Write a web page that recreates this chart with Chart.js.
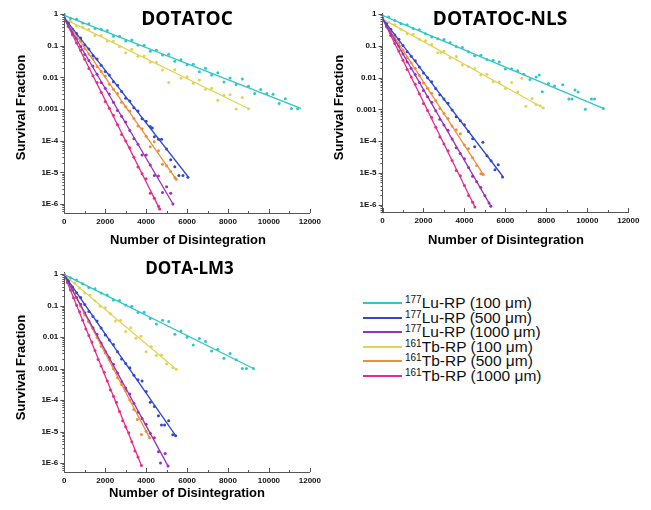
<!DOCTYPE html>
<html>
<head>
<meta charset="utf-8">
<script src="https://cdn.jsdelivr.net/npm/chart.js@4.4.1/dist/chart.umd.min.js"></script>
<style>
  html, body { margin:0; padding:0; background:#fff; }
  #wrap { position:relative; width:651px; height:510px; overflow:hidden; }
  canvas { position:absolute; }
  #legend { position:absolute; left:0; top:0; font-family:'Liberation Sans', Arial, sans-serif; font-size:15.5px; color:#111; }
  .row { position:absolute; left:363px; height:15px; line-height:15px; white-space:nowrap; }
  .sw { position:absolute; left:0; top:7px; width:39px; height:2px; }
  .tx { position:absolute; left:42px; top:0; }
  .tx sup { font-size:10px; vertical-align:5px; line-height:0; }
</style>
</head>
<body>
<div id="wrap">
  <canvas id="c1" width="325" height="250" style="left:0;top:0"></canvas>
  <canvas id="c2" width="326" height="250" style="left:325px;top:0"></canvas>
  <canvas id="c3" width="325" height="260" style="left:0;top:250px"></canvas>
  <div id="legend"></div>
</div>
<script>
// ---------------- DATA ----------------
const panelTitles = ['DOTATOC', 'DOTATOC-NLS', 'DOTA-LM3'];
const xAxisTitle = 'Number of Disintegration';
const yAxisTitle = 'Survival Fraction';
const seriesIsotopes = ['177', '177', '177', '161', '161', '161'];
const seriesNames = ['Lu-RP (100 \u03bcm)', 'Lu-RP (500 \u03bcm)', 'Lu-RP (1000 \u03bcm)', 'Tb-RP (100 \u03bcm)', 'Tb-RP (500 \u03bcm)', 'Tb-RP (1000 \u03bcm)'];
const xTickValues = [0, 2000, 4000, 6000, 8000, 10000, 12000];
const yTickValues = [1e-6, 1e-5, 1e-4, 1e-3, 1e-2, 1e-1, 1];
const yTickLabels = ['1E-6', '1E-5', '1E-4', '0.001', '0.01', '0.1', '1'];

// DOTATOC
const dotatocLu100 = [[0,0.94],[300,0.72],[600,0.68],[900,0.52],[1200,0.49],[1500,0.35],[1800,0.33],[2100,0.30],[2400,0.20],[2700,0.20],[3000,0.14],[3300,0.15],[3600,0.105],[3900,0.103],[4200,0.067],[4500,0.071],[4800,0.051],[5100,0.054],[5400,0.032],[5700,0.036],[6000,0.025],[6300,0.026],[6600,0.015],[6900,0.0195],[7200,0.0119],[7500,0.014],[7800,0.0071],[8100,0.0095],[8400,0.0059],[8700,0.0088],[9000,0.0052],[9300,0.0031],[9600,0.0041],[9900,0.0031],[10200,0.0029],[10500,0.0015],[10800,0.0021],[11100,0.00104],[11400,0.00102]];
const dotatocLu100Fit = [[0,0.9],[11560,0.00105]];
const dotatocLu500 = [[0,0.75],[200,0.54],[400,0.33],[600,0.24],[800,0.175],[1000,0.104],[1200,0.079],[1400,0.049],[1600,0.038],[1800,0.024],[2000,0.0154],[2200,0.0118],[2400,0.0073],[2600,0.0056],[2800,0.0036],[3000,0.0022],[3200,0.0018],[3400,0.00109],[3600,8.7e-4],[3800,4.95e-4],[4000,4.1e-4],[4200,2.8e-4],[4300,2.5e-4],[4400,1.34e-4],[4600,1.1e-4],[4750,1.1e-4],[5000,5.5e-5],[5200,2.5e-5],[5400,1.5e-5],[5600,8e-6],[5800,8e-6],[6040,7e-6]];
const dotatocLu500Fit = [[0,0.75],[6040,7.4e-6]];
const dotatocLu1000 = [[0,0.72],[200,0.43],[400,0.26],[600,0.168],[800,0.094],[1000,0.053],[1200,0.034],[1400,0.0226],[1600,0.0124],[1800,0.0069],[2000,0.0045],[2200,0.003],[2400,0.00162],[2600,8.9e-4],[2800,5.9e-4],[3000,3.9e-4],[3200,2.1e-4],[3400,1.14e-4],[3600,7.7e-5],[3800,3.5e-5],[4000,3.5e-5],[4200,1.7e-5],[4400,8e-6],[4600,7.6e-6],[4800,2.3e-6],[5000,3.5e-6],[5200,2.2e-6],[5310,1e-6]];
const dotatocLu1000Fit = [[0,0.72],[5310,1e-6]];
const dotatocTb100 = [[0,0.70],[300,0.60],[600,0.42],[900,0.38],[1200,0.33],[1500,0.21],[1800,0.21],[2100,0.14],[2400,0.14],[2700,0.094],[3000,0.060],[3300,0.077],[3600,0.046],[3900,0.047],[4200,0.030],[4500,0.030],[4800,0.017],[5100,0.0069],[5400,0.0175],[5700,0.0093],[6000,0.0104],[6300,0.0065],[6600,0.0082],[6900,0.0042],[7200,0.0045],[7500,0.0019],[7800,0.0027],[8100,0.0028],[8400,0.0010],[8700,0.0023],[9000,0.00102]];
const dotatocTb100Fit = [[0,0.7],[9045,0.001]];
const dotatocTb500 = [[0,0.72],[200,0.49],[400,0.29],[600,0.20],[800,0.14],[1000,0.081],[1200,0.055],[1400,0.039],[1600,0.022],[1800,0.0153],[2000,0.011],[2200,0.0061],[2400,0.0042],[2600,0.0031],[2800,0.00164],[3000,0.00117],[3200,8.6e-4],[3400,5.0e-4],[3600,2.9e-4],[3800,2.4e-4],[4000,1.38e-4],[4200,6.4e-5],[4400,9.3e-5],[4600,4.8e-5],[4800,1.8e-5],[5000,1.6e-5],[5200,1.06e-5],[5400,6.9e-6],[5470,6e-6]];
const dotatocTb500Fit = [[0,0.72],[5470,6e-6]];
const dotatocTb1000 = [[0,0.72],[200,0.40],[400,0.22],[600,0.121],[800,0.072],[1000,0.037],[1200,0.019],[1400,0.0113],[1600,0.0069],[1800,0.0034],[2000,0.00174],[2200,0.00105],[2400,6.4e-4],[2600,3.2e-4],[2800,1.58e-4],[3000,9.8e-5],[3200,6.0e-5],[3400,3.0e-5],[3600,1.47e-5],[3800,9.1e-6],[4000,6.3e-6],[4200,2.2e-6],[4400,1.53e-6],[4600,8.5e-7],[4660,7e-7]];
const dotatocTb1000Fit = [[0,0.72],[4660,7e-7]];

// DOTATOC-NLS
const nlsLu100 = [[0,0.9],[300,0.8],[600,0.62],[900,0.49],[1200,0.46],[1500,0.35],[1800,0.32],[2100,0.24],[2400,0.19],[2700,0.167],[3000,0.158],[3300,0.126],[3600,0.095],[3900,0.088],[4200,0.065],[4500,0.049],[4800,0.05],[5100,0.037],[5400,0.035],[5700,0.031],[6000,0.0185],[6300,0.0188],[6600,0.0164],[6900,0.0127],[7200,0.0087],[7500,0.0105],[7650,0.012],[7800,0.0036],[8100,0.0065],[8400,0.0054],[8800,0.0059],[9100,0.0021],[9250,0.0021],[9400,0.0041],[9550,0.0035],[9900,0.001],[10200,0.0021],[10350,0.0021],[10780,0.00107]];
const nlsLu100Fit = [[0,0.9],[10780,0.00107]];
const nlsLu500 = [[0,0.72],[200,0.49],[400,0.33],[600,0.22],[800,0.16],[1000,0.103],[1200,0.065],[1400,0.047],[1600,0.034],[1800,0.0216],[2000,0.014],[2200,0.0099],[2400,0.0074],[2600,0.0045],[2800,0.0029],[3000,0.0021],[3200,0.00155],[3400,9.6e-4],[3600,5.9e-4],[3800,4.4e-4],[4000,3.3e-4],[4200,2.0e-4],[4400,1.2e-4],[4500,6.7e-5],[4900,9.3e-5],[5100,3.5e-5],[5300,2.4e-5],[5490,1.26e-5],[5650,1.8e-5],[5860,7.5e-6]];
const nlsLu500Fit = [[0,0.72],[5860,8e-6]];
const nlsLu1000 = [[0,0.72],[200,0.43],[400,0.26],[600,0.154],[800,0.099],[1000,0.055],[1200,0.031],[1400,0.0197],[1600,0.0126],[1800,0.007],[2000,0.0039],[2200,0.0025],[2400,0.00166],[2600,9.0e-4],[2800,4.9e-4],[3000,3.2e-4],[3200,2.2e-4],[3400,1.16e-4],[3600,6.2e-5],[3800,4.1e-5],[4000,2.8e-5],[4200,1.48e-5],[4400,7.9e-6],[4600,5.3e-6],[4800,3.5e-6],[5000,1.9e-6],[5200,1.13e-6],[5290,9e-7]];
const nlsLu1000Fit = [[0,0.72],[5290,9e-7]];
const nlsTb100 = [[0,0.70],[300,0.55],[600,0.46],[900,0.33],[1200,0.24],[1500,0.23],[1800,0.16],[2100,0.143],[2400,0.109],[2700,0.06],[2850,0.061],[3000,0.067],[3300,0.041],[3600,0.046],[3900,0.025],[4200,0.022],[4500,0.0194],[4800,0.012],[5100,0.0127],[5400,0.0074],[5700,0.0072],[6000,0.0045],[6300,0.007],[6600,0.0035],[6800,0.0095],[7000,0.00126],[7300,0.0022],[7500,0.0014],[7700,0.0013],[7850,0.0011]];
const nlsTb100Fit = [[0,0.7],[7850,0.0011]];
const nlsTb500 = [[0,0.72],[200,0.45],[400,0.29],[600,0.18],[800,0.123],[1000,0.073],[1200,0.043],[1400,0.029],[1600,0.0196],[1800,0.0116],[2000,0.0068],[2200,0.0046],[2400,0.0032],[2600,0.00185],[2800,0.00107],[3000,7.4e-4],[3200,5.2e-4],[3400,3.0e-4],[3600,2.3e-4],[3800,1.7e-4],[4000,7.5e-5],[4200,5.9e-5],[4400,3.0e-5],[4600,1.7e-5],[4800,9.5e-6],[4920,8.9e-6]];
const nlsTb500Fit = [[0,0.72],[4920,9e-6]];
const nlsTb1000 = [[0,0.72],[200,0.39],[400,0.21],[600,0.117],[800,0.069],[1000,0.035],[1200,0.0178],[1400,0.0104],[1600,0.0062],[1800,0.0031],[2000,0.00154],[2200,9.2e-4],[2400,5.5e-4],[2600,2.76e-4],[2800,1.34e-4],[3000,8.2e-5],[3200,5.0e-5],[3400,2.45e-5],[3600,1.19e-5],[3800,8.2e-6],[4000,4.0e-6],[4200,1.94e-6],[4400,1.19e-6],[4510,8.5e-7]];
const nlsTb1000Fit = [[0,0.72],[4510,8.5e-7]];

// DOTA-LM3
const lm3Lu100 = [[0,0.95],[300,0.76],[600,0.65],[900,0.49],[1200,0.37],[1500,0.34],[1800,0.25],[2100,0.215],[2400,0.15],[2700,0.144],[3000,0.103],[3300,0.095],[3600,0.06],[3900,0.061],[4200,0.039],[4500,0.026],[4800,0.034],[5100,0.031],[5400,0.0123],[5700,0.0156],[6000,0.0099],[6300,0.0056],[6600,0.0089],[6900,0.0072],[7200,0.0036],[7500,0.0041],[7800,0.0021],[8100,0.003],[8400,0.0019],[8700,0.001],[8900,0.001],[9240,0.001]];
const lm3Lu100Fit = [[0,0.95],[9240,0.001]];
const lm3Lu500 = [[0,0.93],[200,0.61],[400,0.39],[600,0.256],[800,0.178],[1000,0.108],[1200,0.065],[1400,0.045],[1600,0.032],[1800,0.0192],[2000,0.0116],[2200,0.0081],[2400,0.0058],[2600,0.0034],[2800,0.002],[3000,0.00144],[3200,0.00105],[3400,6.1e-4],[3600,4.4e-4],[3800,4.0e-4],[4000,1.86e-4],[4200,8.5e-5],[4400,6.2e-5],[4600,3.2e-5],[4750,1.6e-5],[4900,1.6e-5],[5100,2.2e-5],[5300,7.9e-6],[5440,7.4e-6]];
const lm3Lu500Fit = [[0,0.93],[5440,7.4e-6]];
const lm3Lu1000 = [[0,0.93],[200,0.54],[400,0.31],[600,0.179],[800,0.11],[1000,0.059],[1200,0.032],[1400,0.0197],[1600,0.0122],[1800,0.0065],[2000,0.0035],[2200,0.0022],[2400,0.00137],[2600,7.2e-4],[2800,3.8e-4],[3000,2.4e-4],[3200,1.55e-4],[3400,7.9e-5],[3600,4.1e-5],[3800,2.6e-5],[4000,1.7e-5],[4200,8.8e-6],[4400,6.3e-6],[4600,2.3e-6],[4700,1e-6],[4930,2e-6],[5070,8e-7]];
const lm3Lu1000Fit = [[0,0.93],[5070,8e-7]];
const lm3Tb100 = [[0,0.93],[250,0.68],[500,0.53],[750,0.36],[1000,0.25],[1250,0.21],[1500,0.141],[1750,0.094],[2000,0.085],[2250,0.055],[2500,0.032],[2750,0.034],[3000,0.015],[3250,0.0197],[3500,0.0091],[3750,0.0105],[4000,0.0034],[4250,0.005],[4500,0.0026],[4750,0.0027],[5000,0.0014],[5300,0.00105],[5470,9.5e-4]];
const lm3Tb100Fit = [[0,0.93],[5470,9.5e-4]];
const lm3Tb500 = [[0,0.93],[200,0.53],[400,0.3],[600,0.18],[800,0.095],[1000,0.05],[1200,0.03],[1400,0.0184],[1600,0.0097],[1800,0.0051],[2000,0.0031],[2200,0.00191],[2400,9.9e-4],[2600,5.1e-4],[2800,3.1e-4],[3000,2.0e-4],[3200,1.0e-4],[3400,5.0e-5],[3570,2.4e-5],[3770,8e-6],[4000,1.02e-5],[4170,6.3e-6]];
const lm3Tb500Fit = [[0,0.93],[4170,6.3e-6]];
const lm3Tb1000 = [[0,0.93],[150,0.54],[300,0.31],[450,0.177],[600,0.102],[750,0.063],[900,0.034],[1050,0.018],[1200,0.0111],[1350,0.007],[1500,0.0037],[1650,0.00195],[1800,0.0012],[1950,7.6e-4],[2100,4.0e-4],[2250,2.1e-4],[2400,1.31e-4],[2550,8.5e-5],[2700,4.3e-5],[2850,2.2e-5],[3000,1.43e-5],[3150,9.2e-6],[3300,4.7e-6],[3450,2.4e-6],[3600,1.56e-6],[3770,8.3e-7]];
const lm3Tb1000Fit = [[0,0.93],[3770,8.3e-7]];

// ---------------- STYLE ----------------
const colors = ['#2fc6c6', '#2e48d2', '#9a2fba', '#e2d352', '#ef8d3a', '#e62c8a'];
const axisColor = '#555';
Chart.defaults.font.family = "'Liberation Sans', Arial, sans-serif";
Chart.defaults.color = '#111';

// legend
const legendTops = [295, 310, 324, 339, 353, 368];
const legend = document.getElementById('legend');
seriesNames.forEach((n, i) => {
  const r = document.createElement('div');
  r.className = 'row';
  r.style.top = legendTops[i] + 'px';
  r.innerHTML = '<span class="sw" style="background:' + colors[i] + '"></span><span class="tx"><sup>' + seriesIsotopes[i] + '</sup>' + n + '</span>';
  legend.appendChild(r);
});

const decor = {
  id: 'decor',
  afterDraw(chart, args, o) {
    const {ctx, chartArea: a, scales: {x, y}} = chart;
    ctx.save();
    ctx.strokeStyle = axisColor;
    ctx.lineWidth = 1;
    for (let e = -7; e <= 0; e++) {
      for (let m = 1; m <= 9; m++) {
        const v = m * Math.pow(10, e);
        if (v < y.min || v > y.max) continue;
        const p = Math.round(y.getPixelForValue(v)) + 0.5;
        const len = m === 1 ? 4 : 2;
        ctx.beginPath(); ctx.moveTo(a.left - len, p); ctx.lineTo(a.left, p); ctx.stroke();
      }
    }
    for (let v = 0; v <= 12000; v += 1000) {
      const p = Math.round(x.getPixelForValue(v)) + 0.5;
      const len = v % 2000 === 0 ? 4 : 2;
      ctx.beginPath(); ctx.moveTo(p, a.bottom); ctx.lineTo(p, a.bottom - len); ctx.stroke();
    }
    ctx.fillStyle = '#000';
    ctx.textAlign = 'center';
    ctx.textBaseline = 'middle';
    ctx.font = "bold " + o.tsize + "px 'Open Sans'";
    ctx.fillText(o.title, o.tx, o.ty);
    ctx.font = "bold 13px 'Liberation Sans'";
    ctx.fillText(xAxisTitle, o.xx, o.xy);
    ctx.translate(o.yx, o.yy);
    ctx.rotate(-Math.PI / 2);
    ctx.fillText(yAxisTitle, 0, 0);
    ctx.restore();
  }
};

function toPts(arr) { return arr.map(p => ({x: p[0], y: p[1]})); }

function makeChart(id, pts, fits, cfg) {
  const datasets = [];
  fits.forEach((f, i) => datasets.push({
    data: toPts(f), showLine: true, borderColor: colors[i], borderWidth: 1.3,
    pointRadius: 0, pointHoverRadius: 0, fill: false
  }));
  pts.forEach((p, i) => datasets.push({
    data: toPts(p), showLine: false, backgroundColor: colors[i], borderWidth: 0,
    pointRadius: 1.5, pointHoverRadius: 1.5
  }));
  return new Chart(document.getElementById(id), {
    type: 'scatter',
    data: {datasets},
    options: {
      responsive: false, animation: false, devicePixelRatio: 1,
      layout: {padding: {left: 0, top: cfg.top, right: cfg.right, bottom: 0}},
      plugins: {legend: {display: false}, tooltip: {enabled: false},
        decor: cfg.decor},
      scales: {
        x: {
          type: 'linear', min: 0, max: 12000,
          afterBuildTicks: s => { s.ticks = xTickValues.map(v => ({value: v})); },
          afterFit: s => { s.height = cfg.xh; },
          ticks: {callback: v => String(v), font: {size: 8, weight: 'bold'}, padding: 4, maxRotation: 0, color: '#111'},
          grid: {display: false, drawTicks: false},
          border: {display: true, color: axisColor, width: 1}
        },
        y: {
          type: 'logarithmic', min: cfg.ymin, max: cfg.ymax,
          afterBuildTicks: s => { s.ticks = yTickValues.map(v => ({value: v})); },
          afterFit: s => { s.width = cfg.yw; },
          ticks: {callback: (v, i) => yTickLabels[yTickValues.indexOf(v)] ?? '', font: {size: 8, weight: 'bold'}, padding: 6, color: '#111'},
          grid: {display: false, drawTicks: false},
          border: {display: true, color: axisColor, width: 1}
        }
      }
    },
    plugins: [decor]
  });
}

makeChart('c1',
  [dotatocLu100, dotatocLu500, dotatocLu1000, dotatocTb100, dotatocTb500, dotatocTb1000],
  [dotatocLu100Fit, dotatocLu500Fit, dotatocLu1000Fit, dotatocTb100Fit, dotatocTb500Fit, dotatocTb1000Fit],
  {top: 13, right: 14.3, xh: 37, yw: 64.3, ymin: 5.2e-7, ymax: 1.075,
   decor: {title: panelTitles[0], tsize: 19, tx: 187, ty: 20, xx: 188, xy: 240, yx: 21, yy: 107.5}});

makeChart('c2',
  [nlsLu100, nlsLu500, nlsLu1000, nlsTb100, nlsTb500, nlsTb1000],
  [nlsLu100Fit, nlsLu500Fit, nlsLu1000Fit, nlsTb100Fit, nlsTb500Fit, nlsTb1000Fit],
  {top: 13, right: 22.7, xh: 38, yw: 57.5, ymin: 5.9e-7, ymax: 1.075,
   decor: {title: panelTitles[1], tsize: 19, tx: 175, ty: 20, xx: 181, xy: 240, yx: 14, yy: 107.5}});

makeChart('c3',
  [lm3Lu100, lm3Lu500, lm3Lu1000, lm3Tb100, lm3Tb500, lm3Tb1000],
  [lm3Lu100Fit, lm3Lu500Fit, lm3Lu1000Fit, lm3Tb100Fit, lm3Tb500Fit, lm3Tb1000Fit],
  {top: 22, right: 14.3, xh: 38, yw: 64.3, ymin: 5.2e-7, ymax: 1.157,
   decor: {title: panelTitles[2], tsize: 17, tx: 189.5, ty: 19, xx: 187, xy: 243, yx: 21, yy: 117.5}});
</script>
</body>
</html>
